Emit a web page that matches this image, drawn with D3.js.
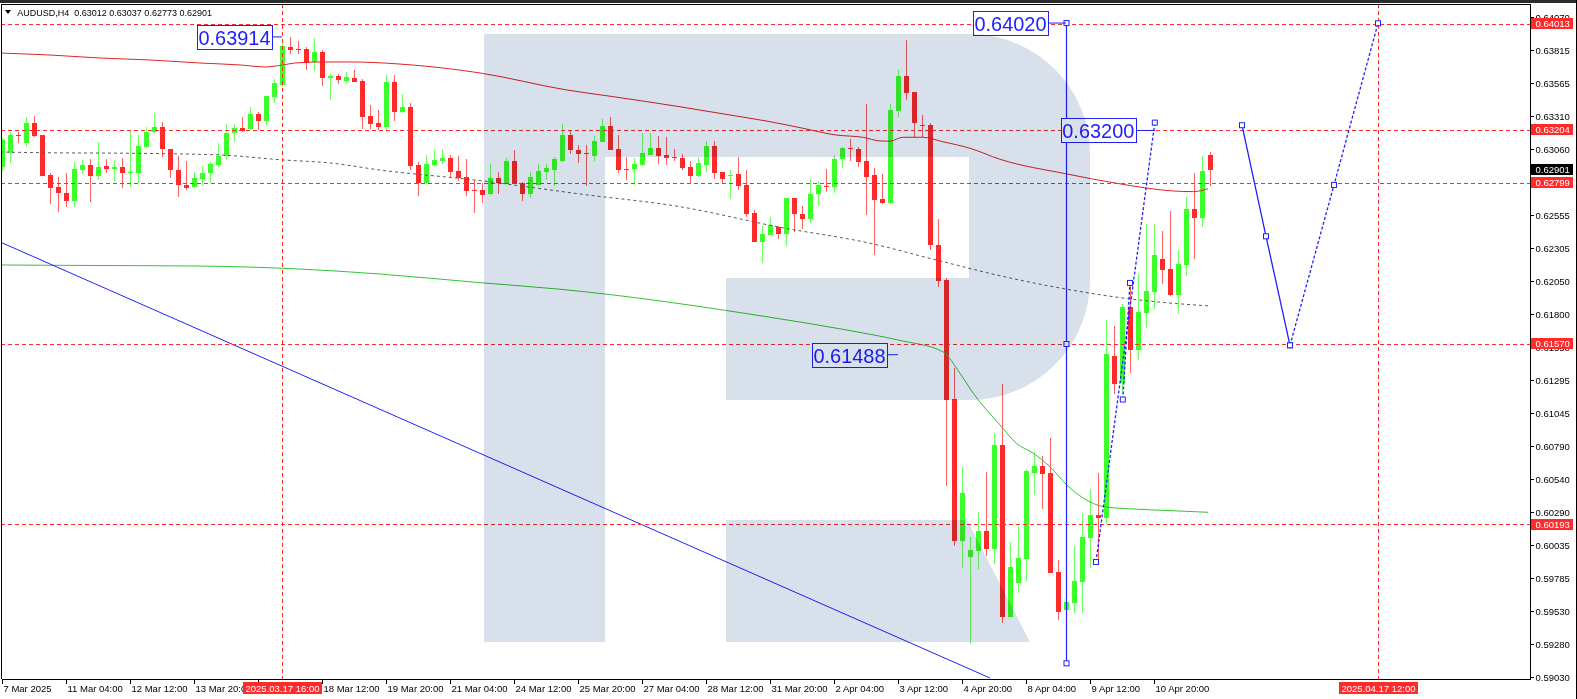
<!DOCTYPE html>
<html><head><meta charset="utf-8">
<script src="https://cdn.jsdelivr.net/npm/d3@7"></script>
<style>
body{margin:0;background:#fff;overflow:hidden}
svg{display:block}
text{font-family:"Liberation Sans",Arial,sans-serif}
</style>
</head><body>
<svg id="c" width="1577" height="699"></svg>
<script>
// ---------------- DATA ----------------
const symbolTitle = "AUDUSD,H4";
const lastQuote = [0.63012, 0.63037, 0.62773, 0.62901];

const open = [
0.62923,0.63026,0.63168,0.63102,0.63255,0.63165,0.62860,0.62766,0.62720,0.62664,
0.62898,0.62936,0.62855,0.62929,0.62908,0.62919,0.62878,0.62878,0.63076,0.63186,
0.63226,0.63056,0.62898,0.62781,0.62766,0.62827,0.62873,0.62936,0.63007,0.63178,
0.63217,0.63214,0.63323,0.63275,0.63458,0.63547,0.63840,0.63824,0.63822,0.63720,
0.63799,0.63598,0.63614,0.63578,0.63598,0.63578,0.63310,0.63255,0.63229,0.63568,
0.63343,0.63377,0.62936,0.62797,0.62936,0.62969,0.62988,0.62891,0.62843,0.62748,
0.62746,0.62715,0.62835,0.62791,0.62969,0.62801,0.62715,0.62784,0.62885,0.62898,
0.62967,0.63165,0.63051,0.63028,0.63007,0.63114,0.63234,0.63056,0.62906,0.62906,
0.62936,0.63013,0.63064,0.63013,0.62995,0.62988,0.62919,0.62852,0.62936,0.63081,
0.62883,0.62858,0.62868,0.62784,0.62568,0.62351,0.62402,0.62465,0.62410,0.62682,
0.62560,0.62522,0.62713,0.62774,0.62766,0.62980,0.63064,0.63059,0.62967,0.62860,
0.62677,0.62644,0.63351,0.63616,0.63494,0.63244,0.63242,0.62326,0.62059,0.61150,
0.60068,0.59946,0.59992,0.60142,0.60005,0.60799,0.59488,0.59748,0.59931,0.60587,
0.60639,0.60585,0.59827,0.59540,0.59595,0.59755,0.60091,0.60265,0.60239,0.61478,
0.61270,0.61850,0.61524,0.61809,0.61967,0.62219,0.62142,0.61944,0.62173,0.62601,
0.62534,0.63012];
const high = [
0.63140,0.63191,0.63191,0.63301,0.63310,0.63168,0.62873,0.62843,0.62873,0.62962,
0.62975,0.62982,0.63110,0.62985,0.62975,0.62988,0.63204,0.63165,0.63224,0.63331,
0.63267,0.63056,0.63007,0.62965,0.62883,0.62931,0.62957,0.63102,0.63247,0.63249,
0.63305,0.63381,0.63343,0.63465,0.63593,0.63870,0.63914,0.63881,0.63840,0.63908,
0.63814,0.63631,0.63631,0.63649,0.63662,0.63593,0.63392,0.63356,0.63623,0.63623,
0.63478,0.63407,0.62962,0.63013,0.63051,0.63056,0.63010,0.63005,0.62980,0.62822,
0.62797,0.62944,0.62883,0.62988,0.63051,0.62803,0.62883,0.62944,0.62944,0.63000,
0.63249,0.63198,0.63089,0.63089,0.63160,0.63288,0.63305,0.63165,0.63000,0.62988,
0.63183,0.63183,0.63158,0.63152,0.63056,0.63020,0.62969,0.63000,0.63122,0.63122,
0.62885,0.62898,0.63000,0.62898,0.62593,0.62471,0.62537,0.62467,0.62684,0.62684,
0.62623,0.62827,0.62817,0.62904,0.63013,0.63076,0.63133,0.63072,0.63402,0.62916,
0.62868,0.63402,0.63662,0.63891,0.63496,0.63318,0.63255,0.62522,0.62072,0.61384,
0.60633,0.60094,0.60285,0.60591,0.60888,0.61265,0.60058,0.60181,0.60616,0.60743,
0.60715,0.60852,0.59921,0.59631,0.60030,0.60282,0.60463,0.60587,0.61753,0.61707,
0.61875,0.62045,0.62104,0.62486,0.62486,0.62435,0.62588,0.62288,0.62690,0.62878,
0.63005,0.63037];
const low = [
0.62893,0.62949,0.63102,0.63076,0.63152,0.62852,0.62636,0.62580,0.62618,0.62618,
0.62868,0.62652,0.62822,0.62873,0.62809,0.62759,0.62771,0.62801,0.63064,0.63183,
0.63000,0.62835,0.62690,0.62746,0.62758,0.62778,0.62797,0.62923,0.62975,0.63114,
0.63191,0.63204,0.63204,0.63242,0.63412,0.63534,0.63784,0.63784,0.63662,0.63654,
0.63540,0.63433,0.63552,0.63565,0.63568,0.63209,0.63209,0.63204,0.63191,0.63272,
0.63336,0.62898,0.62700,0.62791,0.62929,0.62944,0.62835,0.62817,0.62700,0.62572,
0.62649,0.62705,0.62715,0.62791,0.62789,0.62664,0.62682,0.62776,0.62822,0.62776,
0.62962,0.63020,0.62954,0.62776,0.62969,0.63112,0.63049,0.62878,0.62822,0.62784,
0.62929,0.63011,0.62944,0.62936,0.62969,0.62898,0.62801,0.62843,0.62885,0.62827,
0.62801,0.62679,0.62746,0.62537,0.62349,0.62186,0.62400,0.62369,0.62318,0.62423,
0.62446,0.62496,0.62626,0.62733,0.62725,0.62911,0.62969,0.62919,0.62555,0.62249,
0.62642,0.62642,0.63305,0.63433,0.63148,0.63148,0.62288,0.62007,0.60488,0.60028,
0.59862,0.59277,0.59855,0.59954,0.59888,0.59438,0.59486,0.59667,0.59763,0.60417,
0.60313,0.59819,0.59463,0.59520,0.59514,0.59514,0.59858,0.59926,0.60196,0.61188,
0.61194,0.61351,0.61448,0.61694,0.61839,0.62028,0.61936,0.61799,0.62089,0.62221,
0.62465,0.62773];
const close = [
0.63127,0.63165,0.63158,0.63255,0.63158,0.62855,0.62763,0.62725,0.62664,0.62904,
0.62936,0.62855,0.62919,0.62908,0.62919,0.62878,0.62881,0.63084,0.63186,0.63226,
0.63056,0.62898,0.62781,0.62759,0.62835,0.62875,0.62946,0.63007,0.63178,0.63217,
0.63198,0.63323,0.63275,0.63465,0.63562,0.63845,0.63814,0.63820,0.63713,0.63799,
0.63603,0.63614,0.63585,0.63606,0.63570,0.63305,0.63249,0.63229,0.63568,0.63343,
0.63377,0.62929,0.62801,0.62944,0.62975,0.62988,0.62885,0.62839,0.62740,0.62743,
0.62707,0.62835,0.62797,0.62969,0.62791,0.62715,0.62843,0.62891,0.62914,0.62982,
0.63165,0.63051,0.63020,0.63023,0.63120,0.63234,0.63051,0.62898,0.62901,0.62944,
0.63030,0.63064,0.63007,0.62992,0.62990,0.62916,0.62852,0.62949,0.63081,0.62878,
0.62832,0.62862,0.62776,0.62562,0.62351,0.62410,0.62476,0.62410,0.62682,0.62560,
0.62522,0.62715,0.62784,0.62768,0.62980,0.63064,0.63059,0.62962,0.62847,0.62669,
0.62644,0.63356,0.63616,0.63488,0.63259,0.63239,0.62326,0.62053,0.61142,0.60068,
0.60430,0.59997,0.60142,0.60007,0.60799,0.59488,0.59865,0.59936,0.60600,0.60639,
0.60578,0.59824,0.59526,0.59603,0.59761,0.60099,0.60265,0.60244,0.61494,0.61265,
0.61855,0.61524,0.61817,0.61975,0.62249,0.62135,0.61944,0.62181,0.62601,0.62534,
0.62891,0.62901];

// moving averages (bar index, value)
const maRedIdx = [-0.25,6,12.25,18.5,24.75,29.75,32.9,35.1,36.6,39.75,43.5,49.75,59.75,70.6,76.4,84.75,91,96,100.1,104.3,107.6,109.75,111,112.6,115.1,117.6,121,124.75,133.1,139.3,146.4,148.9,150.75];
const maRedVal = [0.63791,0.63776,0.63753,0.63738,0.63715,0.63700,0.63685,0.63700,0.63715,0.63723,0.63723,0.63707,0.63639,0.63509,0.63458,0.63381,0.63318,0.63267,0.63217,0.63165,0.63148,0.63120,0.63118,0.63148,0.63148,0.63114,0.63064,0.62980,0.62868,0.62797,0.62738,0.62733,0.62755];
const maGreyIdx = [-0.25,5.1,16,27.25,35.1,41,47.25,59.75,72.25,84.75,97.25,108.5,116.8,124.75,133.1,141.4,150.9];
const maGreyVal = [0.63036,0.63030,0.63026,0.63013,0.62975,0.62952,0.62898,0.62817,0.62715,0.62618,0.62461,0.62339,0.62211,0.62091,0.61988,0.61911,0.61860];
const maGreenIdx = [-0.25,12.25,24.75,37.25,47.25,59.75,69.75,96,105.1,112.25,117.6,119.75,121.4,124.75,126.8,128.9,131,133.1,135.2,137.7,140.6,146.4,150.75];
const maGreenVal = [0.62173,0.62169,0.62165,0.62142,0.62104,0.62038,0.61988,0.61774,0.61682,0.61597,0.61511,0.61346,0.61194,0.60952,0.60812,0.60736,0.60633,0.60493,0.60392,0.60328,0.60313,0.60297,0.60285];

// time axis
const timeTickIdx = [0,8,16,24,32,40,48,56,64,72,80,88,96,104,112,120,128,136,144];
const timeTickLabels = ["7 Mar 2025","11 Mar 04:00","12 Mar 12:00","13 Mar 20:00","17 Mar 04:00","18 Mar 12:00","19 Mar 20:00","21 Mar 04:00","24 Mar 12:00","25 Mar 20:00","27 Mar 04:00","28 Mar 12:00","31 Mar 20:00","2 Apr 04:00","3 Apr 12:00","4 Apr 20:00","8 Apr 04:00","9 Apr 12:00","10 Apr 20:00"];
// price axis
const priceTicks = [0.64070,0.63815,0.63565,0.63310,0.63060,0.62805,0.62555,0.62305,0.62050,0.61800,0.61550,0.61295,0.61045,0.60790,0.60540,0.60290,0.60035,0.59785,0.59530,0.59280,0.59030];

// horizontal levels and vertical markers
const levelPrices = [0.64013,0.63204,0.62799,0.61570,0.60193];
const bidPrice = 0.62901;
const vMarkIdx = [35,172];
const vMarkLabels = ["2025.03.17 16:00","2025.04.17 12:00"];

// drawn objects
const trendIdx = [-0.25,123.5];
const trendPrice = [0.62349,0.59020];
const measureIdx = 133;
const measurePrices = [0.64020,0.61570,0.59132];
const pathAIdx = [136.75,144.1];
const pathAPrice = [0.59906,0.63260];
const pathBIdx = [140.1,141];
const pathBPrice = [0.61146,0.62036];
const fcSolidIdx = [155,158,161];
const fcSolidPrice = [0.63240,0.62392,0.61560];
const fcDotIdx = [161,166.5,172];
const fcDotPrice = [0.61560,0.62784,0.64018];
const noteTexts = ["0.63914","0.64020","0.63200","0.61488"];
const noteIdx = [35,133,144.1,112];
const notePrices = [0.63914,0.64020,0.63200,0.61488];

// ---------------- DRAW ----------------
const W = 1577, H = 699;
const P = {l:1, t:4, r:1530, b:679};
const svg = d3.select("#c");
const x = d3.scaleLinear().domain([0,151]).range([2,1210]);
const y = d3.scaleLinear().domain([0.59030,0.64070]).range([676.7,16.5]);

const GREEN = "#3cff2a", RED = "#ff2a2a", BLUE = "#2020ff";

svg.append("rect").attr("width",W).attr("height",H).attr("fill","#fff");
const defs = svg.append("defs");
defs.append("clipPath").attr("id","clip").append("rect")
  .attr("x",P.l+1).attr("y",P.t+1).attr("width",P.r-P.l-1).attr("height",P.b-P.t-1);

const g = svg.append("g").attr("clip-path","url(#clip)");

// candles
const bars = d3.range(open.length).map(i => ({i, o:open[i], h:high[i], l:low[i], c:close[i]}));
const cg = g.append("g").attr("shape-rendering","crispEdges");
bars.forEach(d => {
  const xc = Math.round(x(d.i));
  const col = d.c >= d.o ? GREEN : RED;
  const yh = Math.round(y(d.h)), yl = Math.round(y(d.l));
  cg.append("rect").attr("x",xc).attr("y",yh).attr("width",1).attr("height",Math.max(1,yl-yh))
    .attr("fill",col).attr("opacity",0.75);
  const yt = Math.round(y(Math.max(d.o,d.c))), yb = Math.round(y(Math.min(d.o,d.c)));
  cg.append("rect").attr("x",xc-2).attr("y",yt).attr("width",5).attr("height",Math.max(1,yb-yt))
    .attr("fill",col);
});

// moving averages
const lineGen = d3.line().x(d=>x(d[0])).y(d=>y(d[1])).curve(d3.curveMonotoneX);
g.append("path").datum(d3.zip(maGreenIdx,maGreenVal)).attr("d",lineGen)
  .attr("fill","none").attr("stroke","#34c234").attr("stroke-width",1);
g.append("path").datum(d3.zip(maGreyIdx,maGreyVal)).attr("d",lineGen)
  .attr("fill","none").attr("stroke","#5a5a5a").attr("stroke-width",1).attr("stroke-dasharray","3,3");
g.append("path").datum(d3.zip(maRedIdx,maRedVal)).attr("d",lineGen)
  .attr("fill","none").attr("stroke","#e02424").attr("stroke-width",1);

// trend line
const straight = d3.line().x(d=>x(d[0])).y(d=>y(d[1]));
g.append("path").datum(d3.zip(trendIdx,trendPrice)).attr("d",straight)
  .attr("fill","none").attr("stroke",BLUE).attr("stroke-width",1);

// levels
levelPrices.forEach(p => {
  const yy = Math.round(y(p)) + 0.5;
  g.append("line").attr("x1",P.l).attr("x2",P.r).attr("y1",yy).attr("y2",yy)
    .attr("stroke",RED).attr("stroke-width",1).attr("stroke-dasharray","4,3");
});
vMarkIdx.forEach(i => {
  const xx = Math.round(x(i)) + 0.5;
  g.append("line").attr("x1",xx).attr("x2",xx).attr("y1",P.t).attr("y2",P.b)
    .attr("stroke",RED).attr("stroke-width",1).attr("stroke-dasharray","4,3");
});

// measurement vertical
const mx = Math.round(x(measureIdx)) + 0.5;
g.append("line").attr("x1",mx).attr("x2",mx).attr("y1",y(measurePrices[0])).attr("y2",y(measurePrices[2]))
  .attr("stroke",BLUE).attr("stroke-width",1.2);

function marker(px,py){
  g.append("rect").attr("x",px-2.5).attr("y",py-2.5).attr("width",5).attr("height",5)
    .attr("fill","#fff").attr("stroke",BLUE).attr("stroke-width",1);
}
measurePrices.forEach(p => marker(mx, y(p)));

// forecast dotted paths
[[pathAIdx,pathAPrice],[pathBIdx,pathBPrice],[fcDotIdx,fcDotPrice]].forEach(([ix,pr]) => {
  g.append("path").datum(d3.zip(ix,pr)).attr("d",straight)
    .attr("fill","none").attr("stroke",BLUE).attr("stroke-width",1.3).attr("stroke-dasharray","3,2");
});
g.append("path").datum(d3.zip(fcSolidIdx,fcSolidPrice)).attr("d",straight)
  .attr("fill","none").attr("stroke",BLUE).attr("stroke-width",1.3);
[[pathAIdx,pathAPrice],[pathBIdx,pathBPrice],[fcSolidIdx,fcSolidPrice],[fcDotIdx,fcDotPrice]].forEach(([ix,pr]) => {
  ix.forEach((v,k) => marker(x(v), y(pr[k])));
});

// notes (price labels)
const noteGap = [10,18,19,11];
noteTexts.forEach((t,k) => {
  const ax = x(noteIdx[k]), ay = y(notePrices[k]);
  const right = ax - noteGap[k];
  const bw = 75, bh = 24;
  g.append("line").attr("x1",right).attr("x2",ax).attr("y1",ay).attr("y2",ay)
    .attr("stroke",BLUE).attr("stroke-width",1);
  g.append("rect").attr("x",Math.round(right-bw)+0.5).attr("y",Math.round(ay-bh/2)+0.5)
    .attr("width",bw).attr("height",bh).attr("fill","#fff").attr("stroke",BLUE).attr("stroke-width",1);
  g.append("text").attr("x",right-bw/2).attr("y",ay+7.8).attr("text-anchor","middle")
    .attr("font-size","21px").attr("fill",BLUE)
    .attr("textLength",72).attr("lengthAdjust","spacingAndGlyphs").text(t);
});

// watermark logo (multiplied over everything in the plot)
const logo = g.append("g").style("mix-blend-mode","multiply");
const LC = "#d8e0eb";
logo.append("path").attr("fill",LC).attr("d",
  "M484,34 H970 A120,120 0 0 1 1090,154 V280 A120,120 0 0 1 970,400 H726 V278 H969 V157 H605 V642 H484 Z");
logo.append("path").attr("fill",LC).attr("d","M726,520 H967 L1030,642 H726 Z");

// ---------------- FRAME & AXES ----------------
const fr = svg.append("g").attr("shape-rendering","crispEdges");
fr.append("rect").attr("x",0).attr("y",0).attr("width",W).attr("height",2.5).attr("fill","#2b2b2b");
fr.append("line").attr("x1",P.l+0.5).attr("x2",P.r+0.5).attr("y1",P.t+0.5).attr("y2",P.t+0.5).attr("stroke","#000");
fr.append("line").attr("x1",P.l+0.5).attr("x2",P.r+0.5).attr("y1",P.b+0.5).attr("y2",P.b+0.5).attr("stroke","#000");
fr.append("line").attr("x1",P.l+0.5).attr("x2",P.l+0.5).attr("y1",P.t).attr("y2",P.b).attr("stroke","#000");
fr.append("line").attr("x1",P.r+0.5).attr("x2",P.r+0.5).attr("y1",P.t).attr("y2",P.b+1).attr("stroke","#000");
fr.append("line").attr("x1",1576.5).attr("x2",1576.5).attr("y1",0).attr("y2",H).attr("stroke","#000");

// price axis
priceTicks.forEach(p => {
  const yy = Math.round(y(p)) + 0.5;
  fr.append("line").attr("x1",P.r).attr("x2",P.r+4).attr("y1",yy).attr("y2",yy).attr("stroke","#000");
  svg.append("text").attr("x",1535.5).attr("y",yy+3.5).attr("font-size","9.5px").attr("fill","#000")
    .text(d3.format(".5f")(p));
});
function priceBox(p, fill){
  const yy = y(p);
  svg.append("rect").attr("x",1531).attr("y",Math.round(yy-5.5)).attr("width",42).attr("height",11)
    .attr("fill",fill).attr("shape-rendering","crispEdges");
  svg.append("text").attr("x",1535.5).attr("y",Math.round(yy-5.5)+8.8).attr("font-size","9.5px").attr("fill","#fff")
    .text(d3.format(".5f")(p));
}
levelPrices.forEach(p => priceBox(p, RED));
priceBox(bidPrice, "#000");

// time axis (a label fully covered by a marker box is not drawn, as in the reference)
const markX = vMarkIdx.map(i => Math.round(x(i)) + 0.5);
timeTickIdx.forEach((i,k) => {
  const xx = Math.round(x(i)) + 0.5;
  fr.append("line").attr("x1",xx).attr("x2",xx).attr("y1",P.b+1).attr("y2",P.b+5).attr("stroke","#000");
  const hidden = markX.some(mxx => xx >= mxx - 40 && xx + 56 <= mxx + 39);
  if (!hidden) {
    svg.append("text").attr("x",xx+1).attr("y",692).attr("font-size","9.5px").attr("fill","#000")
      .text(timeTickLabels[k]);
  }
});
vMarkIdx.forEach((i,k) => {
  const xx = markX[k];
  svg.append("rect").attr("x",xx-40).attr("y",682).attr("width",79).attr("height",12)
    .attr("fill",RED).attr("shape-rendering","crispEdges");
  svg.append("text").attr("x",xx).attr("y",691.5).attr("text-anchor","middle").attr("font-size","9.5px")
    .attr("fill","#fff").text(vMarkLabels[k]);
});

// title
svg.append("path").attr("d","M5,10 L11,10 L8,14 Z").attr("fill","#000");
svg.append("text").attr("x",17.3).attr("y",16).attr("font-size","9px").attr("fill","#000")
  .attr("xml:space","preserve")
  .text(symbolTitle + "  " + lastQuote.map(d3.format(".5f")).join(" "));
</script>
</body></html>
